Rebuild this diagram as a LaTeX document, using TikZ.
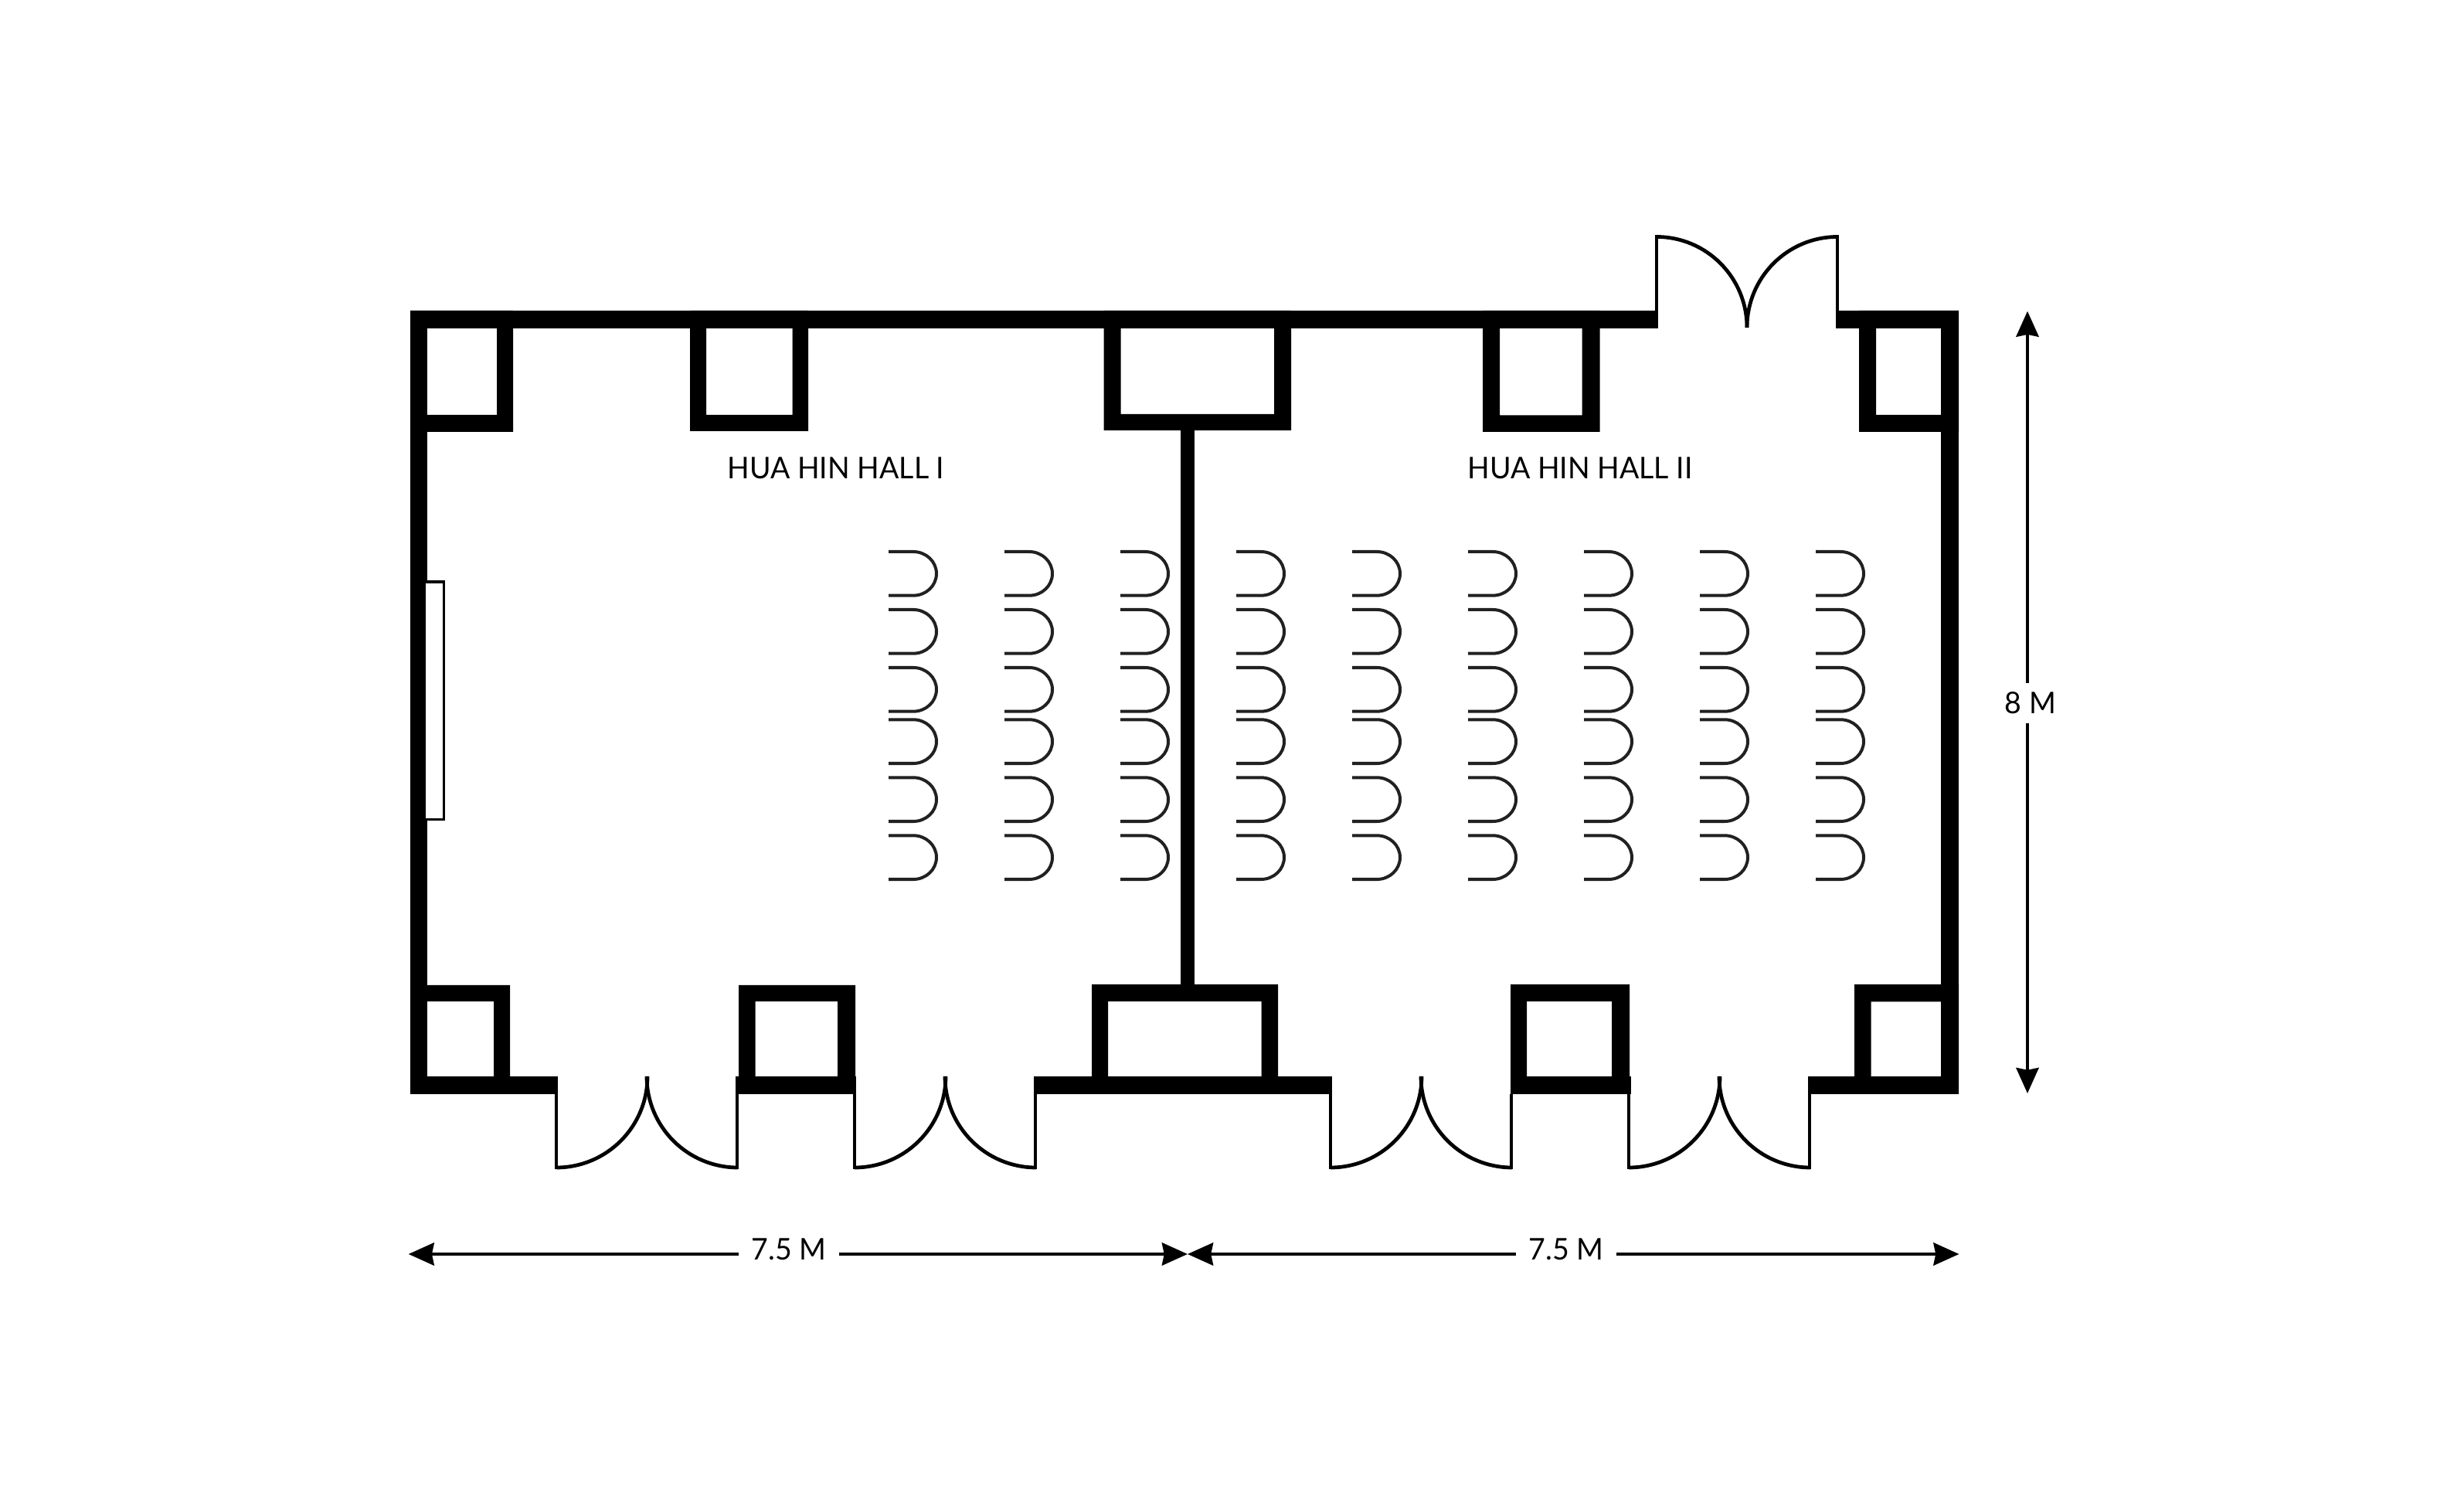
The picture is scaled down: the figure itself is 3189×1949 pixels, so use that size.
\documentclass[tikz,border=0pt]{standalone}
\usepackage{fontspec}
\setmainfont{Lato}[FakeStretch=0.97]
\usetikzlibrary{arrows.meta}

\begin{document}
\begin{tikzpicture}[x=0.01cm, y=-0.01cm]
        \tikzstyle{every node}=[inner xsep=4.5pt, inner ysep=3.2pt, font=\fontsize{11}{13}\selectfont, text=black]
        \tikzstyle{wall}=[fill=black, even odd rule]
        \tikzstyle{jamb}=[black, line width=1pt]
        \tikzstyle{leaf}=[black, line width=1.35pt]
        \tikzstyle{seat}=[draw=black!87, line width=1.14pt]
        \tikzstyle{dim}=[black, line width=1.25pt, -{Stealth[length=9.4pt, width=8.3pt, inset=0.8pt]}]

        \useasboundingbox (0,0) rectangle (3189,1949);

        \fill[wall] (531,402) rectangle (2146,425);
        \fill[wall] (2376,402) rectangle (2535,425);
        \fill[wall] (531,402) rectangle (552.5,1416);
        \fill[wall] (2512,402) rectangle (2535,1416);
        \fill[wall] (531,1393) rectangle (722,1416);
        \fill[wall] (952,1393) rectangle (1108,1416);
        \fill[wall] (1338,1393) rectangle (1724,1416);
        \fill[wall] (1955,1393) rectangle (2111,1416);
        \fill[wall] (2340,1393) rectangle (2535,1416);
        \fill[wall] (1527.5,557) rectangle (1546,1275);

        \fill[wall] (531,402) rectangle (664,559) (552.5,423) rectangle (643,537);
        \fill[wall] (893,402) rectangle (1046,558) (914,423) rectangle (1025.5,537);
        \fill[wall] (1428.5,402) rectangle (1671,557) (1450.5,423) rectangle (1649,536);
        \fill[wall] (1919,402) rectangle (2070.5,559) (1941,423) rectangle (2047.5,537.5);
        \fill[wall] (2406,402) rectangle (2535,559) (2428,423) rectangle (2512,537);

        \fill[wall] (531,1275) rectangle (660,1416) (552.5,1296) rectangle (639,1394);
        \fill[wall] (956,1275) rectangle (1107,1416) (977.5,1296) rectangle (1084,1395);
        \fill[wall] (1413,1274) rectangle (1654,1416) (1434,1296) rectangle (1632.5,1395);
        \fill[wall] (1955,1274) rectangle (2109,1416) (1976,1296) rectangle (2086,1395);
        \fill[wall] (2400,1274) rectangle (2535,1416) (2421.5,1296.5) rectangle (2512,1394);

        \draw[black, line width=1pt, fill=white] (549,752.8) rectangle (574.3,1060.7);

        \foreach \t in {837,1223,1839,2225} {
            \draw[jamb] (\t-117,1416) -- (\t-117,1513);
            \draw[jamb] (\t+117,1416) -- (\t+117,1513);
            \draw[leaf] (\t-117,1511) arc[start angle=90, end angle=0, radius=118];
            \draw[leaf] (\t,1393) arc[start angle=180, end angle=90, radius=118];
        }
        \draw[jamb] (2144,402) -- (2144,304);
        \draw[jamb] (2378,402) -- (2378,304);
        \draw[leaf] (2144,306.5) arc[start angle=-90, end angle=0, x radius=117, y radius=117.5];
        \draw[leaf] (2261,424) arc[start angle=180, end angle=270, x radius=117, y radius=117.5];

        \foreach \x in {1150,1300,...,2350} {
            \foreach \y in {712,787,862,929.3,1004.3,1079.3} {
                \draw[seat] (\x,\y+2) -- (\x+32,\y+2) arc[start angle=-90, end angle=90, x radius=30, y radius=28.35] -- (\x,\y+58.7);
            }
        }

        \node (hall1) at (1082,606) {HUA HIN HALL I};
        \node (hall2) at (2045,606) {HUA HIN HALL II};
        \node (len1) at (1021,1617) {7.5 M};
        \node (len2) at (2027,1617) {7.5 M};
        \node (high) at (2628,910) {8 M};

        \coordinate (west) at (528.7,1623);
        \coordinate (mid) at (1537,1623);
        \coordinate (east) at (2535.5,1623);
        \coordinate (north) at (2624,402.7);
        \coordinate (south) at (2624,1415);

        \draw[dim] (len1.west |- west) -- (west);
        \draw[dim] (len1.east |- mid) -- (mid);
        \draw[dim] (len2.west |- mid) -- (mid);
        \draw[dim] (len2.east |- east) -- (east);
        \draw[dim, line width=1.14pt] (high.north -| north) -- (north);
        \draw[dim, line width=1.14pt] (high.south -| south) -- (south);
\end{tikzpicture}
\end{document}
